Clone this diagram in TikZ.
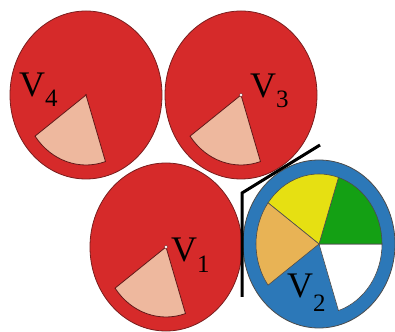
\documentclass[tikz,border=0pt]{standalone}
\usepackage{fontspec}
\setmainfont{Liberation Serif}
\definecolor{cred}{HTML}{D62A2A}
\definecolor{credline}{HTML}{7A1E1E}
\definecolor{csalmon}{HTML}{EEB89E}
\definecolor{cblue}{HTML}{2C78B8}
\definecolor{cyellow}{HTML}{E6E012}
\definecolor{cgreen}{HTML}{14A014}
\definecolor{corange}{HTML}{E8B355}
\newcommand{\vlab}[2]{V\raisebox{-#2pt}{\fontsize{25}{25}\selectfont #1}}
\begin{document}
\begin{tikzpicture}[x=1pt,y=1pt,
  disc/.style={fill=cred,draw=credline,line width=0.8pt},
  bdisc/.style={fill=cblue,draw=black!70,line width=0.8pt},
  slice/.style={draw=credline!80!black,line width=0.8pt},
  lab/.style={anchor=base west,inner sep=0pt,font=\fontsize{36}{36}\selectfont},
  wall/.style={draw=black,line width=3pt}]
\useasboundingbox (0,0) rectangle (395,331);
% V4
\coordinate (c4) at (86,236);
\fill[disc] (c4) ellipse[x radius=76,y radius=84];
\fill[csalmon,slice] (c4) -- ++(216:63 and 70) arc[start angle=216,end angle=288,x radius=63,y radius=70] -- cycle;
\fill[credline] (c4) circle (1.2);
% V3
\coordinate (c3) at (241,236);
\fill[disc] (c3) ellipse[x radius=76,y radius=84];
\fill[csalmon,slice] (c3) -- ++(216:63 and 70) arc[start angle=216,end angle=288,x radius=63,y radius=70] -- cycle;
\filldraw[fill=white,draw=credline,line width=0.4pt] (c3) circle (1.8);
% V1
\coordinate (c1) at (166,84);
\fill[disc] (c1) ellipse[x radius=76,y radius=84];
\fill[csalmon,slice] (c1) -- ++(216:63 and 70) arc[start angle=216,end angle=288,x radius=63,y radius=70] -- cycle;
\filldraw[fill=white,draw=credline,line width=0.4pt] (c1) circle (1.8);
% V2
\coordinate (c2) at (319,87);
\fill[bdisc] (c2) ellipse[x radius=76,y radius=84];
\fill[white,draw=black!70,line width=0.6pt] (c2) -- ++(-72:63 and 70) arc[start angle=-72,end angle=0,x radius=63,y radius=70] -- cycle;
\fill[cgreen,draw=black!70,line width=0.6pt] (c2) -- ++(0:63 and 70) arc[start angle=0,end angle=72,x radius=63,y radius=70] -- cycle;
\fill[cyellow,draw=black!70,line width=0.6pt] (c2) -- ++(72:63 and 70) arc[start angle=72,end angle=144,x radius=63,y radius=70] -- cycle;
\fill[corange,draw=black!70,line width=0.6pt] (c2) -- ++(144:63 and 70) arc[start angle=144,end angle=216,x radius=63,y radius=70] -- cycle;
% wall
\coordinate (w1) at (242,34);
\coordinate (w2) at (242,138);
\coordinate (w3) at (320,186);
\draw[wall] (w1) -- (w2) -- (w3);
% labels
\node[lab] (l4) at (19,234) {\vlab{4}{10}};
\node[lab] (l3) at (250,233) {\vlab{3}{10}};
\node[lab] (l1) at (171,69) {\vlab{1}{11}};
\node[lab] (l2) at (287,33) {\vlab{2}{13}};
\end{tikzpicture}
\end{document}
